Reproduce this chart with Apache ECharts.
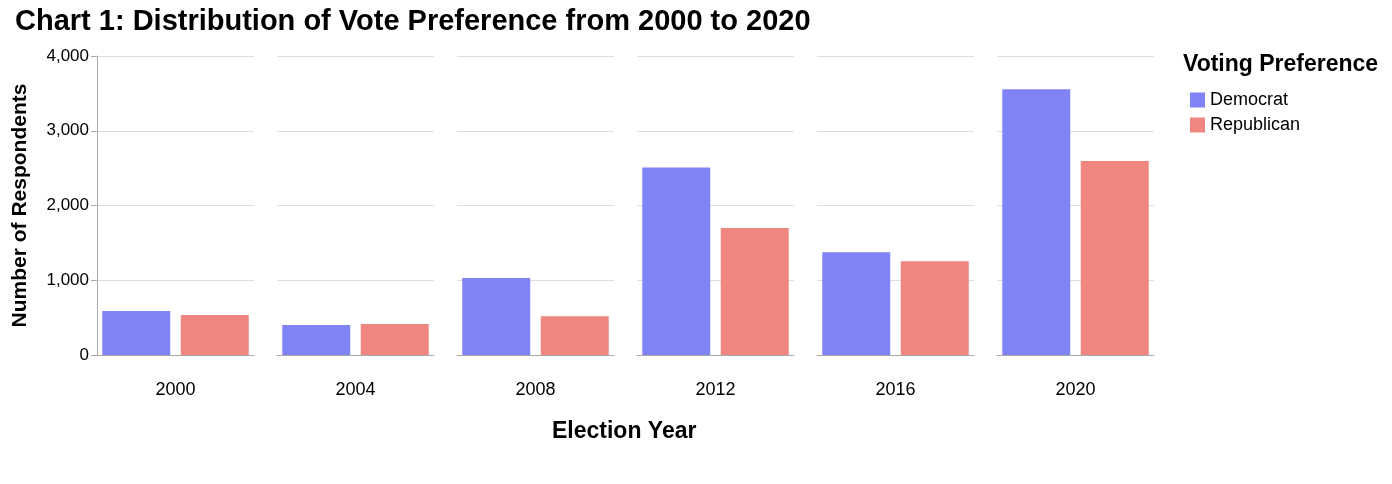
<!DOCTYPE html>
<html><head><meta charset="utf-8">
<script src="https://cdn.jsdelivr.net/npm/echarts@6/dist/echarts.min.js"></script>
<style>body{margin:0}#main{width:1392px;height:484px}</style>
</head><body><div id="main"></div>
<script>
var years = ['2000', '2004', '2008', '2012', '2016', '2020'];
var democrat = [590, 400, 1030, 2510, 1375, 3555];
var republican = [535, 415, 520, 1700, 1255, 2595];
var parties = ['Democrat', 'Republican'];

var blue = '#7f83f5', red = '#f08680';
var font = 'Liberation Sans, Arial, sans-serif';
var grids = [], xAxes = [], yAxes = [], series = [];

years.forEach(function (y, i) {
  grids.push({ left: 97 + 180 * i, top: 56, width: 157, height: 299 });
  xAxes.push({
    type: 'category', gridIndex: i, data: parties,
    axisLabel: { show: false }, axisTick: { show: false },
    axisLine: { lineStyle: { color: '#aaa' } },
    name: y, nameLocation: 'middle', nameGap: 26,
    nameTextStyle: { fontSize: 18, color: '#000', fontFamily: font }
  });
  yAxes.push({
    type: 'value', gridIndex: i, min: 0, max: 4000, interval: 1000,
    axisLine: { show: i === 0, lineStyle: { color: '#aaa' } },
    axisTick: { show: i === 0, length: 6, lineStyle: { color: '#aaa' } },
    axisLabel: {
      show: i === 0, fontSize: 17, color: '#000', fontFamily: font,
      formatter: function (v) { return v.toLocaleString('en-US'); }
    },
    splitLine: { lineStyle: { color: '#ddd' } },
    name: i === 0 ? 'Number of Respondents' : '',
    nameLocation: 'middle', nameGap: 66, nameRotate: 90,
    nameTextStyle: { fontSize: 21, fontWeight: 'bold', color: '#000', fontFamily: font }
  });
  series.push({
    name: 'Democrat', type: 'bar', xAxisIndex: i, yAxisIndex: i,
    data: [democrat[i], null], barWidth: 68, barGap: '-100%',
    itemStyle: { color: blue }
  });
  series.push({
    name: 'Republican', type: 'bar', xAxisIndex: i, yAxisIndex: i,
    data: [null, republican[i]], barWidth: 68,
    itemStyle: { color: red }
  });
});

var chart = echarts.init(document.getElementById('main'));
chart.setOption({
  animation: false,
  title: {
    text: 'Chart 1: Distribution of Vote Preference from 2000 to 2020',
    left: 10, top: 2,
    textStyle: { fontSize: 29, fontWeight: 'bold', color: '#000', fontFamily: font }
  },
  legend: {
    data: parties, orient: 'vertical', left: 1185, top: 86,
    icon: 'rect', itemWidth: 15, itemHeight: 15, itemGap: 7,
    textStyle: { fontSize: 18, color: '#000', fontFamily: font }
  },
  graphic: [
    { type: 'text', left: 1183, top: 53, style: { text: 'Voting Preference', font: 'bold 23px ' + font, fill: '#000' } },
    { type: 'text', left: 552, top: 420, style: { text: 'Election Year', font: 'bold 23px ' + font, fill: '#000' } }
  ],
  grid: grids, xAxis: xAxes, yAxis: yAxes, series: series
});
</script></body></html>
